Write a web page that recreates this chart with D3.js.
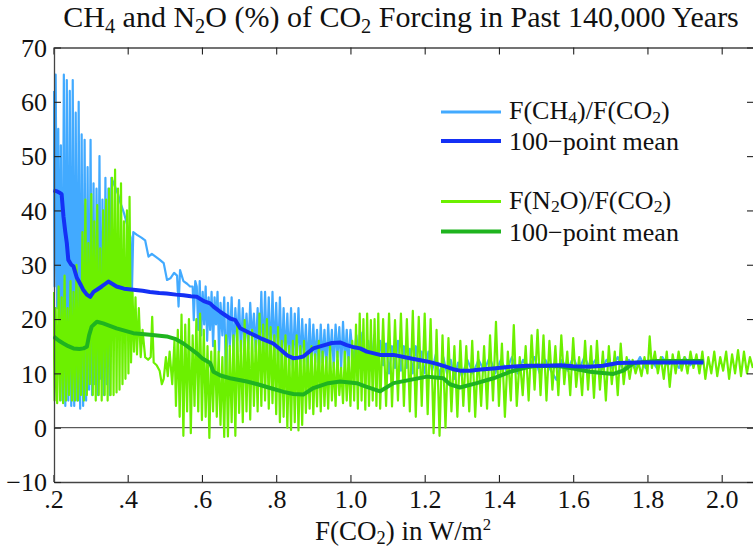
<!DOCTYPE html>
<html>
<head>
<meta charset="utf-8">
<script src="https://cdn.jsdelivr.net/npm/d3@7"></script>
<style>
  html, body { margin: 0; padding: 0; background: #fff; }
  svg { display: block; }
</style>
</head>
<body>
<svg id="chart" width="753" height="551"></svg>
<script>
// ---------------- DATA ----------------
const xTickValues = [0.2, 0.4, 0.6, 0.8, 1.0, 1.2, 1.4, 1.6, 1.8, 2.0];
const yTickValues = [-10, 0, 10, 20, 30, 40, 50, 60, 70];

// F(CH4)/F(CO2) in % vs F(CO2) in W/m2  [x, y]
const ch4Ratio = [
  [0.200,62],[0.203,26],[0.206,65],[0.210,22],[0.213,55],[0.217,12],[0.220,52],[0.224,5],[0.228,65],[0.232,4],
  [0.236,64],[0.240,5],[0.244,62],[0.248,4],[0.252,64],[0.256,4],[0.260,58],[0.264,5],[0.268,60],[0.272,3.5],
  [0.276,54],[0.280,4],[0.284,53],[0.288,5],[0.292,48],[0.296,7],[0.300,53],[0.304,6],[0.308,45],[0.312,8],
  [0.316,44],[0.320,6],[0.324,50],[0.328,9],[0.332,42],[0.336,6],[0.340,46],[0.344,8],[0.348,44],[0.352,6],
  [0.356,46],
  [0.362,45],[0.368,44],[0.374,43],[0.380,41.5],[0.390,39.5],[0.400,37],[0.408,35],[0.411,23.5],[0.415,36],
  [0.425,35.5],[0.437,35],[0.447,34.5],[0.456,31.5],[0.465,32],[0.475,31.5],[0.485,31],[0.497,30.3],[0.506,27.2],
  [0.515,27.5],[0.525,28.5],[0.533,28],[0.537,22.3],[0.541,29],[0.550,27],[0.560,26.5],[0.568,26],[0.575,26],
  [0.578,19.8],[0.582,27],
  [0.586,26],[0.590,18],[0.594,27],[0.598,17],[0.602,25],[0.606,19],[0.610,26],[0.614,16],[0.618,24],[0.622,18],
  [0.626,25],[0.630,15],[0.634,24],[0.638,19],[0.642,25],[0.646,14],[0.650,23],[0.655,17],[0.660,24],[0.665,7.5],
  [0.670,23],[0.675,15],[0.680,24],[0.685,13],[0.690,22],[0.695,16],[0.700,23.5],[0.705,14],[0.710,22],[0.715,15],
  [0.720,21],[0.725,14.5],[0.730,23],[0.735,16],[0.740,21],[0.745,14],[0.750,22],[0.755,13],[0.760,25],[0.765,12.5],
  [0.770,25],[0.775,13],[0.780,24],[0.785,12],[0.790,25],[0.795,13],[0.800,23],[0.805,12],[0.810,24],[0.815,11],
  [0.820,22],[0.825,12.5],[0.830,21],[0.835,11.5],[0.840,22],[0.845,11],[0.850,21],[0.855,12],[0.860,22],[0.865,11],
  [0.870,20],[0.875,12],[0.880,19],[0.885,10],[0.890,20],[0.895,11],[0.900,19],[0.905,12],[0.910,18],[0.915,10.5],
  [0.920,19],[0.925,12],[0.930,18],[0.935,11],[0.940,19],[0.945,12.5],[0.950,18],[0.955,11],[0.960,19],[0.965,13],
  [0.970,18.5],[0.975,11],[0.980,19.5],[0.985,12],[0.990,18],[0.995,11.5],[1.000,18],
  [1.008,12],[1.016,17],[1.024,11],[1.032,17.5],[1.040,12],[1.048,16],[1.056,10.5],[1.064,17],[1.072,11],[1.080,16],
  [1.088,11.5],[1.096,15.5],[1.104,10],[1.112,15],[1.120,11],[1.128,16],[1.136,10.5],[1.144,15],[1.152,11],[1.160,14.5],
  [1.168,10],[1.176,15],[1.184,11],[1.192,14],[1.200,10],[1.210,14],[1.220,10.5],[1.230,13.5],[1.240,9.5],[1.250,13],
  [1.260,10],[1.270,12.5],[1.280,9],[1.290,12],[1.300,9.5],[1.315,12.5],[1.330,10],[1.345,12.5],[1.360,10.5],[1.375,13],
  [1.390,10],[1.405,12.5],[1.420,10.5],[1.435,13],[1.450,10],[1.465,12.5],[1.480,11],[1.495,13],[1.510,10],[1.525,12.5],
  [1.540,10.5],[1.555,8.8],[1.570,12.5],[1.585,10.5],[1.600,13],[1.615,10.5],[1.630,13],[1.645,11],[1.660,12.5],[1.675,10.5],
  [1.690,12.5],[1.705,11],[1.720,13],[1.735,10.5],[1.750,12.5],[1.765,11],[1.780,13],[1.795,11],[1.810,12.5],[1.825,11],
  [1.840,13],[1.855,11.5],[1.870,12.5],[1.885,11],[1.900,13],[1.915,11.5],[1.930,12.5],[1.945,11.5]
];

// 100-point mean of F(CH4)/F(CO2)
const ch4Mean = [
  [0.200,43.7],[0.210,43.5],[0.218,43.2],[0.222,43],[0.227,38.9],[0.232,36],[0.236,34],[0.240,30.9],[0.248,30],
  [0.254,29.7],[0.263,27.6],[0.272,26.5],[0.280,25.4],[0.290,24.5],[0.299,24.1],[0.308,25],[0.317,25.4],[0.330,26],
  [0.340,26.5],[0.348,26.9],[0.358,26.5],[0.370,26],[0.390,25.6],[0.415,25.4],[0.440,25.2],[0.460,25],[0.485,24.8],
  [0.505,24.7],[0.530,24.5],[0.550,24.4],[0.570,24.2],[0.586,24.1],[0.605,23.3],[0.622,22.9],[0.631,22.3],[0.650,21.3],
  [0.676,20.1],[0.690,19.8],[0.703,18.3],[0.730,17.4],[0.757,16.5],[0.775,16],[0.792,15.5],[0.810,14.5],[0.830,13.3],
  [0.846,12.8],[0.860,12.9],[0.873,13.1],[0.900,14.6],[0.930,15.2],[0.950,15.6],[0.972,15.7],[0.990,15.2],[1.010,14.8],
  [1.026,14.6],[1.044,14],[1.080,13.4],[1.116,13.4],[1.160,12.8],[1.206,12.2],[1.235,11.7],[1.259,11.2],[1.280,10.7],
  [1.295,10.5],[1.322,10.5],[1.350,10.7],[1.385,10.9],[1.430,11.2],[1.475,11.4],[1.520,11.4],[1.565,11.5],[1.600,11.3],
  [1.640,11.2],[1.680,11.4],[1.720,11.9],[1.780,12],[1.850,12],[1.951,12]
];

// F(N2O)/F(CO2) in % vs F(CO2) in W/m2  [x, y]
const n2oRatio = [
  [0.200,25],[0.203,5],[0.206,22],[0.210,4.5],[0.214,26],[0.218,5],[0.222,24],[0.226,4.5],[0.230,28],[0.234,5],
  [0.238,22],[0.242,6],[0.246,27],[0.250,5],[0.254,25],[0.258,5],[0.262,30],[0.266,5],[0.270,26],[0.274,6],
  [0.278,36],[0.282,5],[0.286,42],[0.290,6],[0.294,34],[0.298,8],[0.302,43],[0.306,6],[0.310,38],[0.314,5],
  [0.318,41],[0.322,6],[0.326,33],[0.330,5],[0.334,40],[0.338,6],[0.342,42],[0.346,5],[0.350,44],[0.354,6],
  [0.358,46],[0.362,6],[0.366,47.5],[0.370,6.5],[0.374,44],[0.378,7],[0.382,45],[0.386,8],[0.390,38],[0.394,9],
  [0.398,40],[0.402,10],[0.405,42.5],[0.409,12],
  [0.413,25],[0.417,14],[0.421,24],[0.425,13.5],[0.430,22],[0.435,13],[0.440,18],[0.447,13],[0.455,12.5],[0.462,13],
  [0.466,20.4],[0.470,12],[0.478,11.5],[0.486,10.5],[0.492,8],[0.497,9],[0.503,13],[0.508,9.5],[0.513,14],[0.520,8],
  [0.526,16],[0.530,4],[0.535,18],[0.540,2],[0.545,20.8],[0.550,-1.5],[0.555,19],[0.560,3],[0.565,20],[0.570,-1],
  [0.575,17],[0.580,4],
  [0.585,20],[0.590,3],[0.595,21],[0.600,1.4],[0.605,18],[0.610,2],[0.615,15],[0.620,-1.9],[0.625,14],[0.630,3],
  [0.635,16],[0.640,2],[0.645,14],[0.650,0.5],[0.655,13],[0.660,-1.7],[0.665,17],[0.670,-1.6],[0.675,15],[0.680,1],
  [0.685,17],[0.690,-1.5],[0.695,19],[0.700,2.7],[0.705,16],[0.710,1],[0.715,19.8],[0.720,3],[0.725,17],[0.730,1.5],
  [0.735,18],[0.740,4],[0.745,16],[0.750,3],[0.755,21],[0.760,4],[0.765,19],[0.770,5],[0.775,20],[0.780,3.5],
  [0.785,18.5],[0.790,4.5],[0.795,17],[0.800,2.5],[0.805,18.5],[0.810,1],[0.815,16],[0.820,2],[0.825,17],[0.830,0],
  [0.835,15],[0.840,-0.4],[0.845,16],[0.850,1],[0.855,17],[0.860,-0.5],[0.865,15],[0.870,0.5],[0.875,16],[0.880,2.7],
  [0.885,14],[0.890,3.5],[0.895,15],[0.900,2.5],[0.905,13.5],[0.910,3.9],[0.915,16],[0.920,3],[0.925,14],[0.930,4],
  [0.935,13],[0.940,3.5],[0.945,15],[0.950,5],[0.955,12],[0.960,4],[0.965,14],[0.970,6],[0.975,11],[0.980,4.5],
  [0.985,14],[0.990,5],[0.995,13],[1.000,4],[1.005,16],[1.010,5],[1.015,19],[1.020,3.5],[1.025,21],[1.030,5],
  [1.035,20],[1.040,3.3],[1.045,21],[1.050,4],[1.055,19.8],[1.060,5],[1.065,20],[1.070,4],[1.075,21],[1.080,3.5],
  [1.088,20],[1.096,4],[1.104,21],[1.112,3.9],[1.120,19.8],[1.128,5],[1.136,21],[1.144,4],[1.152,20],[1.160,3],
  [1.168,21.5],[1.176,2],[1.184,20.4],[1.192,4],[1.200,21],[1.208,2.5],[1.216,20],[1.224,-1],[1.232,18],[1.240,-1.5],
  [1.248,17],[1.256,0],[1.264,16.5],[1.272,3],[1.280,15],[1.288,2],[1.296,16],[1.304,4],[1.312,15],[1.320,3],
  [1.328,16],[1.336,2],[1.344,14],[1.352,4],[1.360,15],[1.368,3.5],[1.376,17],[1.384,5],[1.392,19.5],[1.400,4],
  [1.408,15.5],[1.416,2],[1.424,14],[1.432,5],[1.440,18.9],[1.448,4],[1.456,13],[1.464,6],[1.472,15],[1.480,5],
  [1.488,17],[1.496,7],
  [1.504,18],[1.512,6],[1.520,17],[1.528,5],[1.536,16],[1.544,7],[1.552,15],[1.560,6],[1.568,17],[1.576,8],
  [1.584,14],[1.592,6],[1.600,16.5],[1.608,7.5],[1.616,13],[1.624,6],[1.632,16],[1.640,7],[1.648,15],[1.656,5.5],
  [1.664,16],[1.672,7],[1.680,14],[1.688,5],[1.696,15],[1.704,8],[1.712,14],[1.720,6],[1.728,15.5],[1.736,8],
  [1.744,13],[1.752,9],[1.760,12.5],[1.768,10],[1.776,12],[1.784,9.5],[1.792,13],[1.800,10],[1.806,16.8],[1.812,11],
  [1.820,14],[1.828,10],[1.836,13],[1.844,9],[1.852,14],[1.860,7.5],[1.868,13.5],[1.876,10],[1.884,14],[1.892,10.5],
  [1.900,13],[1.908,10],[1.916,14],[1.924,11],[1.932,13.5],[1.940,10],[1.948,14],[1.956,9],[1.964,13],[1.972,10],
  [1.980,14],[1.988,9.5],[1.996,13],[2.004,10.5],[2.012,14],[2.020,9],[2.028,13.5],[2.036,10],[2.044,14.3],[2.052,9.5],
  [2.060,14],[2.068,10],[2.076,13],[2.084,11]
];

// 100-point mean of F(N2O)/F(CO2)
const n2oMean = [
  [0.200,16.8],[0.215,16],[0.227,15.5],[0.240,15],[0.254,14.6],[0.270,14.5],[0.281,14.6],[0.290,14.9],[0.296,17],
  [0.303,18.6],[0.317,19.5],[0.334,19.2],[0.350,18.8],[0.370,18.3],[0.415,17.4],[0.460,17.1],[0.505,16.8],[0.530,16.3],
  [0.550,15.5],[0.570,14.5],[0.586,13.7],[0.600,12.8],[0.622,11.9],[0.631,10.3],[0.650,9.6],[0.676,9.1],[0.721,8.5],
  [0.750,8],[0.784,7.3],[0.820,6.6],[0.846,6.2],[0.873,6.1],[0.900,7.3],[0.940,8.2],[0.972,8.5],[1.017,8.2],[1.040,7.6],
  [1.080,6.7],[1.116,8.2],[1.161,8.8],[1.206,9.4],[1.250,9.1],[1.268,8],[1.295,7.4],[1.340,8.2],[1.385,9.1],[1.430,10.3],
  [1.475,11.1],[1.500,11.4],[1.565,11.3],[1.600,10.9],[1.645,10.3],[1.708,9.9],[1.735,10.5],[1.762,11.9],[1.825,12.3],
  [1.951,12.3]
];

// ---------------- CHART ----------------
const FONT = '"Liberation Serif"';
const colors = { ch4: "#42AAFF", ch4Mean: "#1430F5", n2o: "#6CF000", n2oMean: "#1FB41F" };
const svg = d3.select("#chart");
const pLeft = 54, pRight = 754, pTop = 47.5, pBottom = 482;

const x = d3.scaleLinear().domain([0.2015, 0.2015 + (pRight - pLeft) / 371.25]).range([pLeft, pRight]);
const y = d3.scaleLinear().domain([-10, 70]).range([pBottom, pTop]);

svg.append("defs").append("clipPath").attr("id", "clip")
  .append("rect").attr("x", pLeft - 1).attr("y", pTop).attr("width", pRight - pLeft + 2).attr("height", pBottom - pTop);

const line = d3.line().x(d => x(d[0])).y(d => y(d[1]));
const plot = svg.append("g").attr("clip-path", "url(#clip)");

// zero line
plot.append("line").attr("x1", pLeft).attr("x2", pRight).attr("y1", y(0)).attr("y2", y(0))
  .attr("stroke", "#333").attr("stroke-width", 1);

plot.append("path").datum(ch4Ratio).attr("d", line).attr("fill", "none")
  .attr("stroke", colors.ch4).attr("stroke-width", 2.2).attr("stroke-linejoin", "round");
plot.append("path").datum(n2oRatio).attr("d", line).attr("fill", "none")
  .attr("stroke", colors.n2o).attr("stroke-width", 2.2).attr("stroke-linejoin", "round");
plot.append("path").datum(n2oMean).attr("d", line).attr("fill", "none")
  .attr("stroke", colors.n2oMean).attr("stroke-width", 4).attr("stroke-linejoin", "round");
plot.append("path").datum(ch4Mean).attr("d", line).attr("fill", "none")
  .attr("stroke", colors.ch4Mean).attr("stroke-width", 4).attr("stroke-linejoin", "round");

// axes
const fmtX = d => { const s = d3.format(".1f")(d); return d < 1 ? s.replace(/^0/, "") : s; };
const axStyle = g => {
  g.attr("font-family", FONT).attr("font-size", 26);
  g.selectAll(".domain").attr("stroke", "#444").attr("stroke-width", 1.3);
  g.selectAll(".tick line").attr("stroke", "#222").attr("stroke-width", 1.1);
  g.selectAll("text").attr("font-family", FONT).attr("font-size", 26).attr("fill", "#111");
};
svg.append("g").attr("transform", `translate(0,${pBottom})`)
  .call(d3.axisBottom(x).tickValues(xTickValues).tickFormat(fmtX).tickSize(-7).tickSizeOuter(0).tickPadding(8))
  .call(axStyle);
svg.append("g").attr("transform", `translate(0,${pTop})`)
  .call(d3.axisTop(x).tickValues(xTickValues).tickFormat("").tickSize(-7).tickSizeOuter(0))
  .call(axStyle);
svg.append("g").attr("transform", `translate(${pLeft},0)`)
  .call(d3.axisLeft(y).tickValues(yTickValues).tickFormat(d3.format("d")).tickSize(-7).tickSizeOuter(0).tickPadding(7))
  .call(axStyle)
  .selectAll("text").attr("dy", "0.34em");
svg.append("g").attr("transform", `translate(${pRight},0)`)
  .call(d3.axisRight(y).tickValues(yTickValues).tickFormat("").tickSize(-7).tickSizeOuter(0))
  .call(axStyle);

// text helper with subscripts / superscripts
function richText(sel, parts, size, subShift) {
  const sh = subShift == null ? 0.2 : subShift;
  sel.attr("font-family", FONT).attr("font-size", size).attr("fill", "#111");
  parts.forEach(p => {
    const t = sel.append("tspan").text(p.t);
    if (p.sub) t.attr("font-size", size * 0.68).attr("dy", size * sh);
    else if (p.sup) t.attr("font-size", size * 0.62).attr("dy", -size * 0.38);
    if (p.back) t.attr("dy", -size * sh);
  });
}

// title
const TS = 30;
const title = svg.append("text").attr("x", 401).attr("y", 27).attr("text-anchor", "middle");
richText(title, [
  { t: "CH" }, { t: "4", sub: true }, { t: " and N", back: true }, { t: "2", sub: true },
  { t: "O (%) of CO", back: true }, { t: "2", sub: true },
  { t: " Forcing in Past 140,000 Years", back: true }
], TS);

// x axis label
const AS = 27;
const xl = svg.append("text").attr("x", 403).attr("y", 540).attr("text-anchor", "middle");
richText(xl, [
  { t: "F(CO" }, { t: "2", sub: true }, { t: ") in W/m", back: true }, { t: "2", sup: true }
], AS, 0.16);

// legend
const LS = 26;
const legendItems = [
  { y: 112, off: 7, color: colors.ch4, w: 3, parts: [{ t: "F(CH" }, { t: "4", sub: true }, { t: ")/F(CO", back: true }, { t: "2", sub: true }, { t: ")", back: true }] },
  { y: 141, off: 9, color: colors.ch4Mean, w: 4, parts: [{ t: "100\u2212point mean" }] },
  { y: 201.5, off: 7, color: colors.n2o, w: 3, parts: [{ t: "F(N" }, { t: "2", sub: true }, { t: "O)/F(CO", back: true }, { t: "2", sub: true }, { t: ")", back: true }] },
  { y: 231.5, off: 9, color: colors.n2oMean, w: 4, parts: [{ t: "100\u2212point mean" }] }
];
const lg = svg.append("g");
legendItems.forEach(it => {
  lg.append("line").attr("x1", 441).attr("x2", 501).attr("y1", it.y).attr("y2", it.y)
    .attr("stroke", it.color).attr("stroke-width", it.w);
  const t = lg.append("text").attr("x", 509).attr("y", it.y + it.off);
  richText(t, it.parts, LS, 0.15);
});
</script>
</body>
</html>
